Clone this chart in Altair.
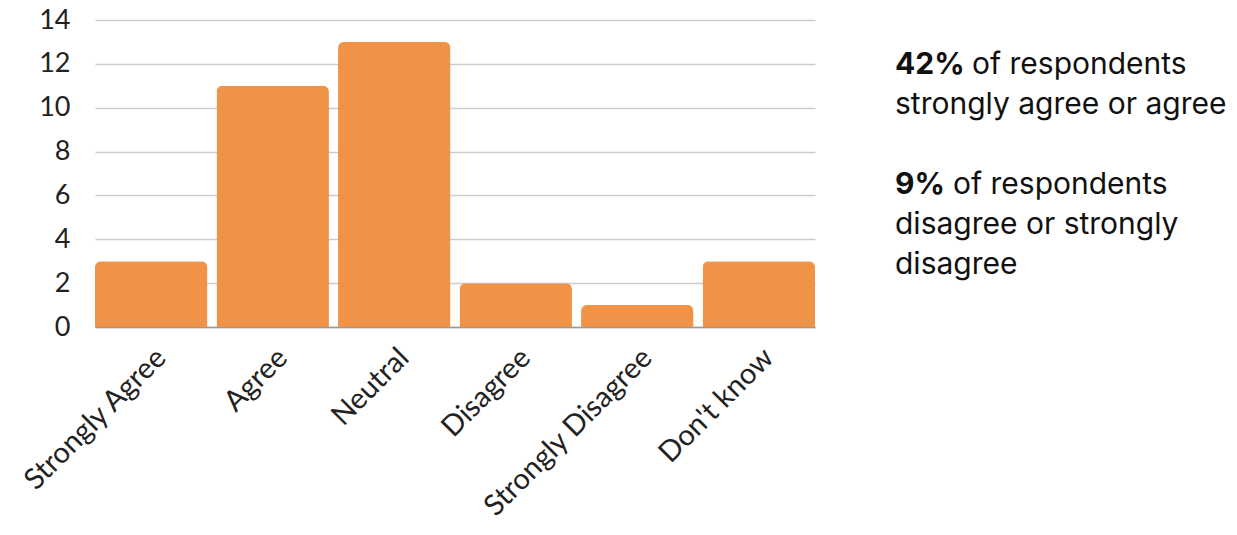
import altair as alt
import pandas as pd

categories = ["Strongly Agree", "Agree", "Neutral", "Disagree", "Strongly Disagree", "Don't know"]
counts = [3, 11, 13, 2, 1, 3]
y_ticks = [0, 2, 4, 6, 8, 10, 12, 14]

note_bold = ["42%", "", "9%", "", ""]
note_rest = ["of respondents", "strongly agree or agree", "of respondents", "disagree or strongly", "disagree"]
note_row = [0, 1, 3, 4, 5]
note_rest_x = [877, 800, 858, 800, 800]

df = pd.DataFrame({"category": categories, "count": counts})

FONT_AX = "Lato"
FONT_TXT = "Inter"
ORANGE = "#F09347"

bars = alt.Chart(df).mark_bar(
    color=ORANGE, cornerRadiusTopLeft=6, cornerRadiusTopRight=6
).encode(
    x=alt.X("category:N", sort=categories, title=None,
            scale=alt.Scale(paddingInner=0.075, paddingOuter=0.0),
            axis=alt.Axis(labelAngle=-45, labelFontSize=29, labelFont=FONT_AX,
                          labelColor="#222222", ticks=False, domain=True,
                          domainColor="#999999", domainWidth=1.5, labelPadding=16,
                          labelLimit=300)),
    y=alt.Y("count:Q", title=None,
            scale=alt.Scale(domain=[0, 14], nice=False),
            axis=alt.Axis(values=y_ticks, labelFontSize=27, labelFont=FONT_AX,
                          labelColor="#222222", ticks=False, domain=False,
                          labelPadding=25, gridColor="#cccccc", gridWidth=1.5)),
)


def ypix(r):
    return 45 + 40 * r


layers = [bars]
for b, r, row, rx in zip(note_bold, note_rest, note_row, note_rest_x):
    y = ypix(row)
    if b:
        layers.append(alt.Chart(pd.DataFrame({"t": [b]})).mark_text(
            align="left", baseline="middle", fontSize=30, font=FONT_TXT,
            fontWeight="bold", color="#111111").encode(
            text="t:N", x=alt.value(800), y=alt.value(y)))
    layers.append(alt.Chart(pd.DataFrame({"t": [r]})).mark_text(
        align="left", baseline="middle", fontSize=30, font=FONT_TXT,
        color="#111111").encode(
        text="t:N", x=alt.value(rx), y=alt.value(y)))

chart = alt.layer(*layers).properties(
    width=720, height=307,
    background="white",
    autosize=alt.AutoSizeParams(type="none"),
    padding={"left": 95, "top": 20, "right": 422, "bottom": 208},
).configure_view(stroke=None)

chart.save("out.html", embed_options={"renderer": "svg", "actions": False})
